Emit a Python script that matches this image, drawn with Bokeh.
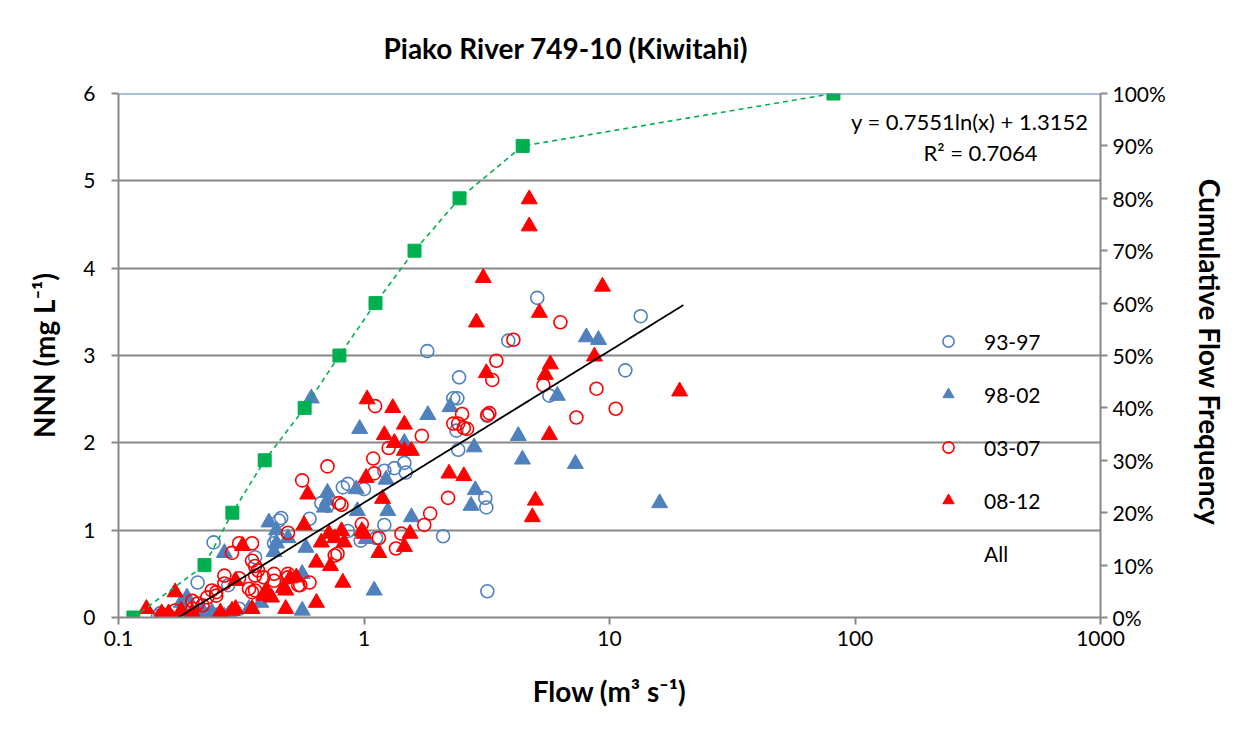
import numpy as np
from bokeh.plotting import figure
from bokeh.models import (Range1d, LinearAxis, FixedTicker, NumeralTickFormatter,
                          Legend, LegendItem, Label, CustomJSTickFormatter, Span)
from bokeh.embed import file_html
from bokeh.resources import INLINE

FONT = "Lato"
title_text = "Piako River 749-10 (Kiwitahi)"
x_label = "Flow (m³ s⁻¹)"
y_label = "NNN (mg L⁻¹)"
y2_label = "Cumulative Flow  Frequency"
series_names = ["93-97", "98-02", "03-07", "08-12", "All"]

# 93-97 (blue open circles)
flow_9397 = [5.08, 13.4, 11.6, 5.69, 3.87, 1.81, 2.44, 2.31, 2.40, 3.18, 2.38, 2.42, 1.48,
             3.12, 3.15, 2.10, 3.18, 1.21, 1.33, 1.46, 0.82, 0.86, 1.00, 0.67, 0.71, 0.60,
             0.45, 0.46, 0.86, 1.21, 1.12, 0.97, 0.244, 0.43, 0.44, 0.36, 0.21, 0.28, 0.31,
             0.148, 0.145, 0.156]
nnn_9397 = [3.66, 3.45, 2.83, 2.54, 3.17, 3.05, 2.75, 2.51, 2.51, 2.31, 2.14, 1.92, 1.66,
            1.37, 1.26, 0.93, 0.30, 1.68, 1.71, 1.77, 1.49, 1.53, 1.47, 1.31, 1.28, 1.13,
            1.11, 1.14, 0.99, 1.06, 0.91, 0.88, 0.86, 0.85, 0.90, 0.69, 0.40, 0.37, 0.10,
            0.05, 0.02, 0.02]

# 98-02 (blue filled triangles)
flow_9802 = [8.05, 9.02, 6.13, 4.25, 4.42, 7.26, 2.81, 2.84, 2.73, 16.0, 1.56, 2.24, 1.82,
             1.46, 0.96, 0.61, 1.23, 0.93, 0.71, 0.71, 0.69, 0.94, 1.25, 1.02, 0.41, 0.44,
             0.44, 0.49, 0.27, 0.43, 0.58, 0.56, 1.10, 0.56, 0.19, 0.18, 0.34, 0.38, 0.18,
             0.19, 0.21, 0.22, 0.23, 0.24, 0.25, 0.27, 0.28, 0.29]
nnn_9802 = [3.21, 3.18, 2.54, 2.08, 1.81, 1.76, 1.95, 1.46, 1.28, 1.31, 1.15, 2.41, 2.32,
            2.00, 2.16, 2.51, 1.58, 1.47, 1.43, 1.34, 1.26, 1.22, 1.22, 0.90, 1.09, 1.00,
            0.85, 0.91, 0.74, 0.75, 0.80, 0.50, 0.31, 0.08, 0.23, 0.17, 0.10, 0.17, 0.03,
            0.01, 0.01, 0.08, 0.01, 0.06, 0.01, 0.01, 0.03, 0.00]

# 03-07 (red open circles)
flow_0307 = [6.31, 4.06, 3.46, 3.33, 5.38, 8.85, 10.6, 7.33, 3.18, 3.24, 2.51, 2.31, 2.42,
             2.55, 2.63, 1.72, 2.20, 1.86, 1.76, 1.11, 1.26, 1.09, 0.71, 1.10, 0.56, 0.79,
             0.81, 0.98, 0.49, 1.15, 1.42, 1.35, 0.35, 0.31, 0.29, 0.35, 0.36, 0.76, 0.78,
             0.60, 0.54, 0.49, 0.43, 0.43, 0.35, 0.34, 0.36, 0.37, 0.31, 0.27, 0.27, 0.24,
             0.25, 0.25, 0.20, 0.23, 0.21, 0.22, 0.17, 0.20, 0.15, 0.16, 0.39, 0.49, 0.55,
             0.36]
nnn_0307 = [3.38, 3.18, 2.94, 2.72, 2.66, 2.62, 2.39, 2.29, 2.32, 2.34, 2.33, 2.22, 2.22,
            2.17, 2.16, 2.08, 1.37, 1.19, 1.06, 2.42, 1.94, 1.82, 1.73, 1.65, 1.57, 1.31,
            1.29, 1.07, 0.97, 0.91, 0.96, 0.79, 0.85, 0.85, 0.74, 0.65, 0.59, 0.71, 0.73,
            0.40, 0.37, 0.50, 0.50, 0.42, 0.29, 0.33, 0.48, 0.54, 0.45, 0.48, 0.39, 0.31,
            0.25, 0.29, 0.19, 0.23, 0.16, 0.14, 0.08, 0.10, 0.02, 0.02, 0.46, 0.46, 0.37,
            0.31]

# 08-12 (red filled triangles)
flow_0812 = [4.71, 4.71, 3.06, 9.36, 5.18, 2.87, 3.15, 5.74, 5.48, 8.68, 19.3, 1.46, 5.69,
             1.46, 1.56, 2.22, 2.55, 4.99, 4.85, 1.54, 1.46, 1.03, 1.31, 1.21, 1.33, 1.02,
             0.59, 1.19, 0.57, 0.98, 1.00, 0.67, 0.72, 0.76, 0.81, 0.83, 0.32, 0.64, 0.73,
             1.15, 0.53, 0.50, 0.47, 0.48, 0.82, 0.64, 0.48, 0.35, 0.30, 0.39, 0.42, 0.40,
             0.30, 0.17, 0.13, 0.15, 0.16, 0.26, 0.29, 0.18, 0.20]
nnn_0812 = [4.79, 4.48, 3.89, 3.79, 3.49, 3.38, 2.80, 2.90, 2.78, 2.99, 2.59, 2.21, 2.09,
            1.91, 1.91, 1.65, 1.62, 1.34, 1.15, 0.96, 0.81, 2.50, 2.40, 2.09, 2.00, 1.60,
            1.41, 1.36, 1.06, 0.99, 0.96, 0.86, 0.96, 0.91, 0.99, 0.86, 0.82, 0.63, 0.59,
            0.74, 0.46, 0.45, 0.34, 0.31, 0.40, 0.17, 0.10, 0.10, 0.10, 0.25, 0.23, 0.31,
            0.42, 0.29, 0.10, 0.05, 0.05, 0.06, 0.08, 0.08, 0.06]

# cumulative flow frequency (right axis)
cum_flow = [0.115, 0.224, 0.291, 0.394, 0.573, 0.794, 1.114, 1.606, 2.45, 4.43, 81.7]
cum_freq = [0.0, 0.1, 0.2, 0.3, 0.4, 0.5, 0.6, 0.7, 0.8, 0.9, 1.0]

# logarithmic trend line for All
trend_a = 0.7551
trend_b = 1.3152
trend_r2 = 0.7064
trend_x_min = 0.174
trend_x_max = 20.0

x_ticks = [0.1, 1, 10, 100, 1000]
y_ticks = [0, 1, 2, 3, 4, 5, 6]
y2_ticks = [0.0, 0.1, 0.2, 0.3, 0.4, 0.5, 0.6, 0.7, 0.8, 0.9, 1.0]

BLUE = "#4F81BD"
RED = "#FF0000"
GREEN = "#00B050"
GRID = "#878787"
TXT = "#000000"

p = figure(width=1237, height=721, x_axis_type="log",
           x_range=Range1d(0.1, 1000), y_range=Range1d(0, 6),
           output_backend="svg", toolbar_location=None,
           min_border_left=118, min_border_right=137,
           min_border_top=92, min_border_bottom=104,
           title=title_text)
p.extra_y_ranges = {"cum": Range1d(0, 1)}
p.outline_line_color = None
p.background_fill_color = "white"
p.border_fill_color = "white"

p.title.text_font = FONT
p.title.text_font_size = "28px"
p.title.text_font_style = "bold"
p.title.text_color = TXT
p.title.align = "left"
p.title.offset = 265
p.title.standoff = 57

p.xgrid.visible = False
p.ygrid.ticker = FixedTicker(ticks=y_ticks)
p.ygrid.grid_line_color = GRID
p.ygrid.grid_line_width = 2

LABEL_SIZE = "28px"
TICK_SIZE = "21px"

# x axis
xa = p.xaxis[0]
xa.ticker = FixedTicker(ticks=x_ticks, minor_ticks=[])
xa.formatter = CustomJSTickFormatter(code="return String(Math.round(tick*10)/10);")
xa.axis_label = x_label
for ax in [xa, p.yaxis[0]]:
    ax.axis_line_color = GRID
    ax.axis_line_width = 2
    ax.major_tick_line_color = GRID
    ax.major_tick_line_width = 2
    ax.major_tick_out = 7
    ax.major_tick_in = 0
    ax.minor_tick_line_color = None
    ax.major_label_text_font = FONT
    ax.major_label_text_font_size = TICK_SIZE
    ax.major_label_text_color = TXT
    ax.axis_label_text_font = FONT
    ax.axis_label_text_font_size = LABEL_SIZE
    ax.axis_label_text_font_style = "bold"
    ax.axis_label_text_color = TXT
xa.major_label_standoff = 6
xa.axis_label_standoff = 25

ya = p.yaxis[0]
ya.ticker = FixedTicker(ticks=y_ticks, minor_ticks=[])
ya.axis_label = y_label
ya.major_label_standoff = 16
ya.axis_label_standoff = 19

ya2 = LinearAxis(y_range_name="cum", ticker=FixedTicker(ticks=y2_ticks, minor_ticks=[]),
                 formatter=NumeralTickFormatter(format="0%"), axis_label=y2_label)
ya2.axis_line_color = GRID
ya2.axis_line_width = 2
ya2.major_tick_line_color = GRID
ya2.major_tick_line_width = 2
ya2.major_tick_out = 7
ya2.major_tick_in = 0
ya2.minor_tick_line_color = None
ya2.major_label_text_font = FONT
ya2.major_label_text_font_size = TICK_SIZE
ya2.major_label_text_color = TXT
ya2.major_label_standoff = 5
ya2.axis_label_text_font = FONT
ya2.axis_label_text_font_size = LABEL_SIZE
ya2.axis_label_text_font_style = "bold"
ya2.axis_label_text_color = TXT
ya2.axis_label_standoff = 24
p.add_layout(ya2, "right")

# top border line (blue)
p.add_layout(Span(location=6, dimension="width", line_color=BLUE, line_width=2))

r1 = p.scatter(flow_9397, nnn_9397, marker="circle", size=13, fill_color=None,
               line_color=BLUE, line_width=1.6)
r2 = p.scatter(flow_9802, nnn_9802, marker="triangle", size=16, fill_color=BLUE,
               line_color=BLUE, line_width=1)
r3 = p.scatter(flow_0307, nnn_0307, marker="circle", size=13, fill_color=None,
               line_color=RED, line_width=1.6)
r4 = p.scatter(flow_0812, nnn_0812, marker="triangle", size=16, fill_color=RED,
               line_color=RED, line_width=1)
r5 = p.scatter([], [], marker="circle", size=1, fill_alpha=0, line_alpha=0)

tx = np.geomspace(trend_x_min, trend_x_max, 120)
ty = trend_a * np.log(tx) + trend_b
p.line(tx, ty, line_color="black", line_width=1.8)

p.line(cum_flow, cum_freq, y_range_name="cum", line_color=GREEN, line_width=1.6,
       line_dash="5 4")
p.scatter(cum_flow, cum_freq, y_range_name="cum", marker="square", size=13,
          fill_color=GREEN, line_color=GREEN)

legend = Legend(items=[LegendItem(label=series_names[0], renderers=[r1]),
                       LegendItem(label=series_names[1], renderers=[r2]),
                       LegendItem(label=series_names[2], renderers=[r3]),
                       LegendItem(label=series_names[3], renderers=[r4]),
                       LegendItem(label=series_names[4], renderers=[r5])],
                location=(816, 50), orientation="vertical")
legend.label_text_font = FONT
legend.label_text_font_size = "21px"
legend.label_text_color = TXT
legend.glyph_width = 28
legend.glyph_height = 28
legend.label_height = 28
legend.spacing = 25
legend.padding = 0
legend.margin = 0
legend.label_standoff = 22
legend.border_line_color = None
legend.background_fill_alpha = 0
p.add_layout(legend)

eq1 = Label(x=970, y=496, x_units="screen", y_units="screen",
            text=f"y = {trend_a:.4f}ln(x) + {trend_b:.4f}", text_align="right",
            text_baseline="middle", text_font=FONT, text_font_size="22px", text_color=TXT)
eq2 = Label(x=862, y=465, x_units="screen", y_units="screen",
            text=f"R² = {trend_r2:.4f}", text_align="center",
            text_baseline="middle", text_font=FONT, text_font_size="22px", text_color=TXT)
p.add_layout(eq1)
p.add_layout(eq2)

open("out.html", "w").write(file_html(p, INLINE))
